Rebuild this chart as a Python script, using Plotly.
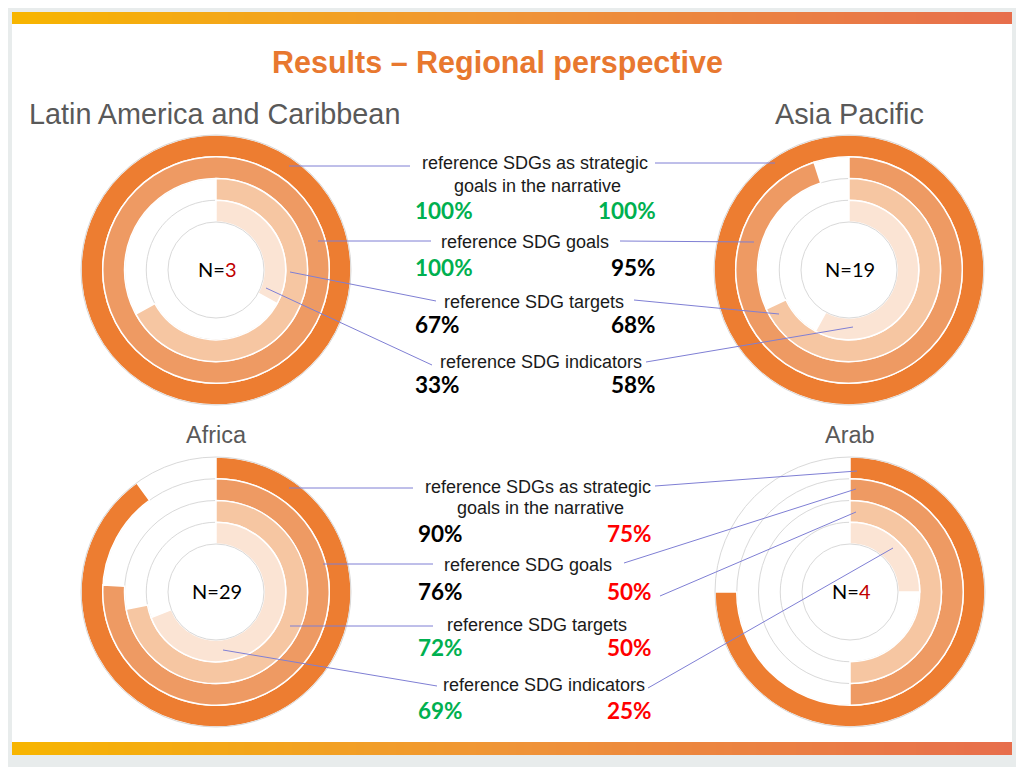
import plotly.graph_objects as go

# page body adds an 8px margin; figure is sized to fill the rest of the window
OFF = 8
W, H = 1016, 759

# ---------------- data ----------------
regions = ["Latin America and Caribbean", "Asia Pacific", "Africa", "Arab"]
n_values = [3, 19, 29, 4]
metric_lines = [
    ["reference SDGs as strategic", "goals in the narrative"],
    ["reference SDG goals"],
    ["reference SDG targets"],
    ["reference SDG indicators"],
]
lac_pct = [100, 100, 67, 33]
asia_pct = [100, 95, 68, 58]
africa_pct = [90, 76, 72, 69]
arab_pct = [75, 50, 50, 25]
# colour of each printed value: g = green, k = black, r = red
lac_flag = ["g", "g", "k", "k"]
asia_flag = ["g", "k", "k", "k"]
africa_flag = ["k", "k", "g", "g"]
arab_flag = ["r", "r", "r", "r"]

region_pct = [lac_pct, asia_pct, africa_pct, arab_pct]
flag_color = {"g": "#00B050", "k": "#000000", "r": "#FF0000"}
ring_colors = ["#ED7D31", "#EE9A63", "#F6C6A2", "#FBE4D4"]
n_color = ["#C00000", "#000000", "#000000", "#C00000"]

# ---------------- layout helpers (window pixel -> paper) ----------------
def px(x):
    return (x - OFF) / W

def py(y):
    return 1 - (y - OFF) / H

centers = [(216, 270), (849, 270), (216, 592), (850, 592)]
R_OUT = 135
HOLE = 48 / R_OUT

fig = go.Figure()
layout_polars = {}
shapes = []
annotations = []

# slide background
shapes.append(dict(type="rect", xref="paper", yref="paper", x0=px(12), x1=px(1012),
                   y0=py(755), y1=py(12), fillcolor="white", line=dict(width=0), layer="below"))

# gradient bars
def lerp(c1, c2, t):
    return tuple(round(a + (b - a) * t) for a, b in zip(c1, c2))

stops = [(0.0, (247, 181, 0)), (0.5, (239, 148, 56)), (1.0, (231, 110, 76))]
def grad(t):
    for (t0, c0), (t1, c1) in zip(stops[:-1], stops[1:]):
        if t <= t1:
            return lerp(c0, c1, (t - t0) / (t1 - t0))
    return stops[-1][1]

NSEG = 125
x_start, x_end = 12, 1012
for (y0, y1) in [(12, 24), (742, 755)]:
    for i in range(NSEG):
        xa = x_start + (x_end - x_start) * i / NSEG
        xb = x_start + (x_end - x_start) * (i + 1) / NSEG + 0.6
        c = grad((i + 0.5) / NSEG)
        shapes.append(dict(type="rect", xref="paper", yref="paper", x0=px(xa), x1=px(min(xb, x_end)),
                           y0=py(y1), y1=py(y0), fillcolor="rgb(%d,%d,%d)" % c,
                           line=dict(width=0), layer="below"))

# ---------------- polar ring charts ----------------
for k, (pcts, (cx, cy)) in enumerate(zip(region_pct, centers)):
    pname = "polar" if k == 0 else "polar%d" % (k + 1)
    for ring, pct in enumerate(pcts):
        fig.add_trace(go.Barpolar(
            r=[1], base=[3 - ring], theta=[pct * 3.6 / 2], width=[pct * 3.6],
            marker=dict(color=ring_colors[ring], line=dict(color="white", width=1.5)),
            subplot=pname, showlegend=False, hoverinfo="skip"))
    layout_polars[pname] = dict(
        domain=dict(x=[px(cx - R_OUT), px(cx + R_OUT)], y=[py(cy + R_OUT), py(cy - R_OUT)]),
        hole=HOLE, bgcolor="rgba(0,0,0,0)",
        radialaxis=dict(range=[0, 4], tickvals=[0, 1, 2, 3], showticklabels=False, ticks="",
                        gridcolor="#D9D9D9", gridwidth=1, showline=False),
        angularaxis=dict(rotation=90, direction="clockwise", showticklabels=False, ticks="",
                         showgrid=False, showline=True, linecolor="#D9D9D9", linewidth=1),
        barmode="overlay")
    # N= label
    annotations.append(dict(x=px(cx + 1), y=py(cy - 1), xref="paper", yref="paper",
                            text="N=<span style='color:%s'>%d</span>" % (n_color[k], n_values[k]),
                            showarrow=False, font=dict(family="Lato", size=20, color="#000000"),
                            xanchor="center", yanchor="middle"))

# ---------------- titles ----------------
annotations.append(dict(x=px(497), y=py(62), xref="paper", yref="paper", text="<b>Results – Regional perspective</b>",
                        showarrow=False, font=dict(family="Liberation Sans", size=30.5, color="#E8782F"),
                        xanchor="center", yanchor="middle"))
annotations.append(dict(x=px(27), y=py(114), xref="paper", yref="paper", text=regions[0],
                        showarrow=False, font=dict(family="Liberation Sans", size=28.8, color="#595959"),
                        xanchor="left", yanchor="middle"))
annotations.append(dict(x=px(926), y=py(114), xref="paper", yref="paper", text=regions[1],
                        showarrow=False, font=dict(family="Liberation Sans", size=28.8, color="#595959"),
                        xanchor="right", yanchor="middle"))
annotations.append(dict(x=px(216), y=py(435), xref="paper", yref="paper", text=regions[2],
                        showarrow=False, font=dict(family="Liberation Sans", size=23.5, color="#595959"),
                        xanchor="center", yanchor="middle"))
annotations.append(dict(x=px(850), y=py(435), xref="paper", yref="paper", text=regions[3],
                        showarrow=False, font=dict(family="Liberation Sans", size=23.5, color="#595959"),
                        xanchor="center", yanchor="middle"))

# ---------------- middle labels & values ----------------
blocks = [
    dict(label_pos=[(535, 163, 537, 186), (525, 242), (534, 302), (541, 362)],
         value_y=[211, 268, 324, 385], lx=413, rx=658, left=0, right=1),
    dict(label_pos=[(538, 487, 540, 508), (528, 565), (537, 625), (544, 685)],
         value_y=[533, 591, 647, 710], lx=416, rx=654, left=2, right=3),
]
flags = [lac_flag, asia_flag, africa_flag, arab_flag]
for b in blocks:
    for m in range(4):
        pos = b["label_pos"][m]
        for j, line in enumerate(metric_lines[m]):
            annotations.append(dict(x=px(pos[2 * j]), y=py(pos[2 * j + 1]), xref="paper", yref="paper",
                                    text=line, showarrow=False,
                                    font=dict(family="Liberation Sans", size=18, color="#1A1A1A"),
                                    xanchor="center", yanchor="middle"))
        vy = b["value_y"][m]
        for side in ("left", "right"):
            ri = b[side]
            annotations.append(dict(x=px(b["lx"] if side == "left" else b["rx"]), y=py(vy),
                                    xref="paper", yref="paper",
                                    text="<b>%d%%</b>" % region_pct[ri][m], showarrow=False,
                                    font=dict(family="Lato", size=22.5, color=flag_color[flags[ri][m]]),
                                    xanchor=side, yanchor="middle"))

# ---------------- connector lines ----------------
connectors = [
    (289, 166, 410, 166), (318, 241, 431, 241), (290, 272, 436, 301), (266, 288, 432, 365),
    (655, 163, 775, 163), (620, 241, 754, 242), (634, 300, 779, 314), (646, 362, 853, 327),
    (289, 488, 413, 488), (323, 564, 433, 564), (290, 626, 433, 626), (223, 650, 437, 686),
    (655, 486, 857, 471), (624, 563, 856, 489), (660, 596, 856, 512), (648, 688, 893, 548),
]
for (x0, y0, x1, y1) in connectors:
    shapes.append(dict(type="line", xref="paper", yref="paper", x0=px(x0), y0=py(y0), x1=px(x1), y1=py(y1),
                       line=dict(color="#7F7FD4", width=1), layer="above"))

fig.update_layout(
    width=W, height=H, margin=dict(l=0, r=0, t=0, b=0),
    paper_bgcolor="#E8ECEC", plot_bgcolor="rgba(0,0,0,0)",
    shapes=shapes, annotations=annotations, showlegend=False,
    **layout_polars,
)
fig.write_html("out.html")
